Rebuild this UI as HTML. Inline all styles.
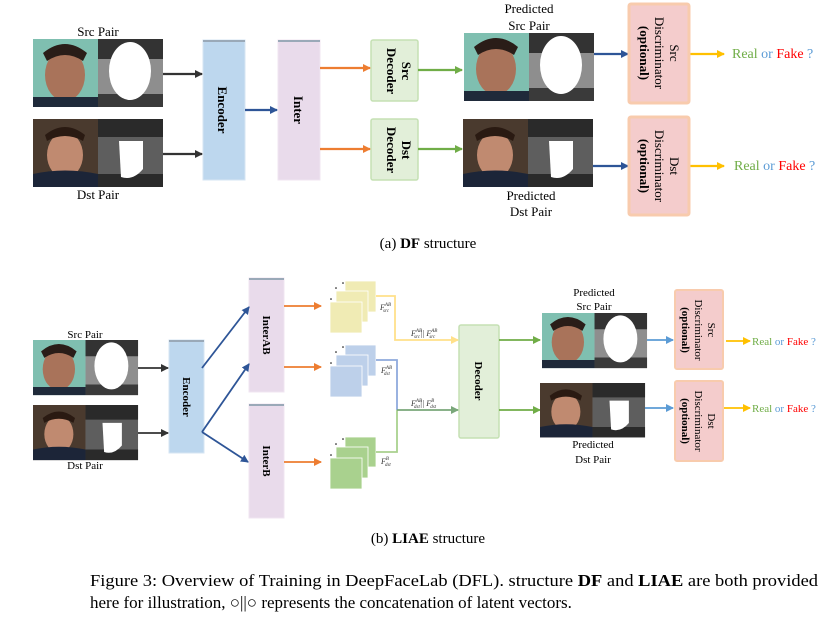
<!DOCTYPE html>
<html><head><meta charset="utf-8"><style>
html,body{margin:0;padding:0;background:#fff;}
svg{display:block;font-family:"Liberation Serif",serif;}
</style></head><body>
<svg width="830" height="617" viewBox="0 0 830 617" xmlns="http://www.w3.org/2000/svg">
<defs>
<marker id="ak" markerWidth="8" markerHeight="8" refX="7" refY="4" orient="auto" markerUnits="userSpaceOnUse"><path d="M0,0 L8,4 L0,8z" fill="#333"/></marker>
<marker id="ab" markerWidth="8" markerHeight="8" refX="7" refY="4" orient="auto" markerUnits="userSpaceOnUse"><path d="M0,0 L8,4 L0,8z" fill="#2e5597"/></marker>
<marker id="alb" markerWidth="8" markerHeight="8" refX="7" refY="4" orient="auto" markerUnits="userSpaceOnUse"><path d="M0,0 L8,4 L0,8z" fill="#5b9bd5"/></marker>
<marker id="ao" markerWidth="8" markerHeight="8" refX="7" refY="4" orient="auto" markerUnits="userSpaceOnUse"><path d="M0,0 L8,4 L0,8z" fill="#ed7d31"/></marker>
<marker id="ag" markerWidth="8" markerHeight="8" refX="7" refY="4" orient="auto" markerUnits="userSpaceOnUse"><path d="M0,0 L8,4 L0,8z" fill="#70ad47"/></marker>
<marker id="ay" markerWidth="8" markerHeight="8" refX="7" refY="4" orient="auto" markerUnits="userSpaceOnUse"><path d="M0,0 L8,4 L0,8z" fill="#ffc000"/></marker>
<marker id="ayl" markerWidth="8" markerHeight="8" refX="7" refY="4" orient="auto" markerUnits="userSpaceOnUse"><path d="M0,0 L8,4 L0,8z" fill="#ffe08a"/></marker>
<marker id="agg" markerWidth="8" markerHeight="8" refX="7" refY="4" orient="auto" markerUnits="userSpaceOnUse"><path d="M0,0 L8,4 L0,8z" fill="#7aa77a"/></marker>
<g id="srcpair">
 <rect x="0" y="0" width="65" height="68" fill="#7fbfb0"/>
 <ellipse cx="32" cy="36" rx="20" ry="26" fill="#a9735a"/>
 <path d="M10,14 Q32,-4 54,14 L50,22 Q32,10 14,22z" fill="#2a1d18"/>
 <path d="M0,58 L65,58 L65,68 L0,68z" fill="#1f2a3a"/>
 <rect x="65" y="0" width="65" height="68" fill="#8e8e8e"/>
 <path d="M65,0 h65 v20 h-65z" fill="#333"/>
 <path d="M65,55 h65 v13 h-65z" fill="#3a3a3a"/>
 <ellipse cx="97" cy="32" rx="21" ry="29" fill="#fff"/>
</g>
<g id="dstpair">
 <rect x="0" y="0" width="65" height="68" fill="#4a3a2e"/>
 <ellipse cx="32" cy="36" rx="18" ry="23" fill="#c08a70"/>
 <path d="M12,16 Q32,0 52,16 L50,22 Q32,12 14,22z" fill="#2a1a12"/>
 <path d="M0,55 Q32,48 65,55 L65,68 L0,68z" fill="#1c2538"/>
 <rect x="65" y="0" width="65" height="68" fill="#5e5e5e"/>
 <path d="M65,0 h65 v18 h-65z" fill="#2a2a2a"/>
 <path d="M65,55 h65 v13 h-65z" fill="#2a2a2a"/>
 <path d="M86,22 h24 v28 q-10,12 -22,8z" fill="#fff"/>
</g>
</defs>

<!-- (a) DF -->
<text x="98" y="36" font-size="13" text-anchor="middle">Src Pair</text>
<use href="#srcpair" transform="translate(33,39)"/>
<use href="#dstpair" transform="translate(33,119)"/>
<text x="98" y="199" font-size="13" text-anchor="middle">Dst Pair</text>

<rect x="203" y="40" width="42" height="140" fill="#bdd7ee" stroke="#d6e5f3"/>
<rect x="203" y="40" width="42" height="2" fill="#9aa9b8"/>
<text transform="translate(218,110) rotate(90)" font-size="13" font-weight="bold" text-anchor="middle">Encoder</text>
<rect x="278" y="40" width="42" height="140" fill="#e9dbeb" stroke="#f0e6f1"/>
<rect x="278" y="40" width="42" height="2" fill="#9aa9b8"/>
<text transform="translate(294,110) rotate(90)" font-size="13" font-weight="bold" text-anchor="middle">Inter</text>

<rect x="371" y="40" width="47" height="61" rx="2" fill="#e2efd9" stroke="#c5e0b4" stroke-width="1.5"/>
<text transform="translate(398,71) rotate(90)" font-size="13" font-weight="bold" text-anchor="middle"><tspan x="0" dy="-4">Src</tspan><tspan x="0" dy="15">Decoder</tspan></text>
<rect x="371" y="119" width="47" height="61" rx="2" fill="#e2efd9" stroke="#c5e0b4" stroke-width="1.5"/>
<text transform="translate(398,150) rotate(90)" font-size="13" font-weight="bold" text-anchor="middle"><tspan x="0" dy="-4">Dst</tspan><tspan x="0" dy="15">Decoder</tspan></text>

<g stroke-width="2.2" fill="none">
<line x1="163" y1="74" x2="202" y2="74" stroke="#333" marker-end="url(#ak)"/>
<line x1="163" y1="154" x2="202" y2="154" stroke="#333" marker-end="url(#ak)"/>
<line x1="245" y1="110" x2="277" y2="110" stroke="#2e5597" marker-end="url(#ab)"/>
<line x1="320" y1="68" x2="370" y2="68" stroke="#ed7d31" marker-end="url(#ao)"/>
<line x1="320" y1="149" x2="370" y2="149" stroke="#ed7d31" marker-end="url(#ao)"/>
<line x1="418" y1="70" x2="462" y2="70" stroke="#70ad47" marker-end="url(#ag)"/>
<line x1="418" y1="149" x2="462" y2="149" stroke="#70ad47" marker-end="url(#ag)"/>
<line x1="594" y1="54" x2="628" y2="54" stroke="#2e5597" marker-end="url(#ab)"/>
<line x1="593" y1="166" x2="628" y2="166" stroke="#2e5597" marker-end="url(#ab)"/>
<line x1="689" y1="54" x2="724" y2="54" stroke="#ffc000" marker-end="url(#ay)"/>
<line x1="689" y1="166" x2="724" y2="166" stroke="#ffc000" marker-end="url(#ay)"/>
</g>

<text x="529" y="13" font-size="13" text-anchor="middle">Predicted</text>
<text x="529" y="30" font-size="13" text-anchor="middle">Src Pair</text>
<use href="#srcpair" transform="translate(464,33)"/>
<use href="#dstpair" transform="translate(463,119)"/>
<text x="531" y="200" font-size="13" text-anchor="middle">Predicted</text>
<text x="531" y="216" font-size="13" text-anchor="middle">Dst Pair</text>

<rect x="629" y="4" width="60" height="99" rx="2" fill="#f4cccc" stroke="#f8cbad" stroke-width="3"/>
<text transform="translate(659,53) rotate(90)" font-size="13" text-anchor="middle"><tspan x="0" dy="-11">Src</tspan><tspan x="0" dy="15">Discriminator</tspan><tspan x="0" dy="15" font-weight="bold">(optional)</tspan></text>
<rect x="629" y="117" width="60" height="98" rx="2" fill="#f4cccc" stroke="#f8cbad" stroke-width="3"/>
<text transform="translate(659,166) rotate(90)" font-size="13" text-anchor="middle"><tspan x="0" dy="-11">Dst</tspan><tspan x="0" dy="15">Discriminator</tspan><tspan x="0" dy="15" font-weight="bold">(optional)</tspan></text>

<text x="732" y="58" font-size="14"><tspan fill="#70ad47">Real</tspan><tspan fill="#5b9bd5"> or </tspan><tspan fill="#ff0000">Fake</tspan><tspan fill="#5b9bd5"> ?</tspan></text>
<text x="734" y="170" font-size="14"><tspan fill="#70ad47">Real</tspan><tspan fill="#5b9bd5"> or </tspan><tspan fill="#ff0000">Fake</tspan><tspan fill="#5b9bd5"> ?</tspan></text>

<text x="428" y="248" font-size="15" text-anchor="middle">(a) <tspan font-weight="bold">DF</tspan> structure</text>

<!-- (b) LIAE -->
<text x="85" y="338" font-size="11" text-anchor="middle">Src Pair</text>
<use href="#srcpair" transform="translate(33,340) scale(0.808,0.81)"/>
<use href="#dstpair" transform="translate(33,405) scale(0.808,0.81)"/>
<text x="85" y="469" font-size="11" text-anchor="middle">Dst Pair</text>

<rect x="169" y="340" width="35" height="113" fill="#bdd7ee" stroke="#d6e5f3"/>
<rect x="169" y="340" width="35" height="2" fill="#9aa9b8"/>
<text transform="translate(183,397) rotate(90)" font-size="11" font-weight="bold" text-anchor="middle">Encoder</text>
<rect x="249" y="278" width="35" height="114" fill="#e9dbeb" stroke="#f0e6f1"/>
<rect x="249" y="278" width="35" height="2" fill="#9aa9b8"/>
<text transform="translate(263,335) rotate(90)" font-size="11" font-weight="bold" text-anchor="middle">InterAB</text>
<rect x="249" y="404" width="35" height="114" fill="#e9dbeb" stroke="#f0e6f1"/>
<rect x="249" y="404" width="35" height="2" fill="#9aa9b8"/>
<text transform="translate(263,461) rotate(90)" font-size="11" font-weight="bold" text-anchor="middle">InterB</text>

<!-- stacks -->
<g stroke="#fff" stroke-width="0.8">
<rect x="345" y="281" width="31" height="31" fill="#f0ebb4"/><rect x="336" y="291" width="32" height="31" fill="#f0ebb4"/><rect x="330" y="302" width="32" height="31" fill="#f0ebb4"/>
<rect x="345" y="345" width="31" height="31" fill="#bdd0ea"/><rect x="336" y="355" width="32" height="31" fill="#bdd0ea"/><rect x="330" y="366" width="32" height="31" fill="#bdd0ea"/>
<rect x="345" y="437" width="31" height="30" fill="#a9d18e"/><rect x="336" y="447" width="32" height="31" fill="#a9d18e"/><rect x="330" y="458" width="32" height="31" fill="#a9d18e"/>
</g>
<g fill="#000">
<circle cx="343" cy="283" r="0.8"/><circle cx="336" cy="288" r="0.8"/><circle cx="331" cy="299" r="0.8"/>
<circle cx="343" cy="347" r="0.8"/><circle cx="336" cy="352" r="0.8"/><circle cx="331" cy="363" r="0.8"/>
<circle cx="343" cy="439" r="0.8"/><circle cx="336" cy="444" r="0.8"/><circle cx="331" cy="455" r="0.8"/>
</g>

<rect x="459" y="325" width="40" height="113" rx="2" fill="#e2efd9" stroke="#c5e0b4" stroke-width="1.5"/>
<text transform="translate(475,381) rotate(90)" font-size="11" font-weight="bold" text-anchor="middle">Decoder</text>

<g stroke-width="1.8" fill="none">
<line x1="138" y1="368" x2="168" y2="368" stroke="#333" marker-end="url(#ak)"/>
<line x1="138" y1="433" x2="168" y2="433" stroke="#333" marker-end="url(#ak)"/>
<line x1="202" y1="368" x2="249" y2="307" stroke="#2e5597" marker-end="url(#ab)"/>
<line x1="202" y1="432" x2="249" y2="364" stroke="#2e5597" marker-end="url(#ab)"/>
<line x1="202" y1="432" x2="248" y2="462" stroke="#2e5597" marker-end="url(#ab)"/>
<line x1="284" y1="306" x2="321" y2="306" stroke="#ed7d31" marker-end="url(#ao)"/>
<line x1="284" y1="367" x2="321" y2="367" stroke="#ed7d31" marker-end="url(#ao)"/>
<line x1="284" y1="462" x2="321" y2="462" stroke="#ed7d31" marker-end="url(#ao)"/>
<polyline points="376,296 395,296 395,340 458,340" stroke="#ffe08a" marker-end="url(#ayl)"/>
<polyline points="376,360 397,360 397,410" stroke="#8faadc"/>
<polyline points="376,452 397,452 397,410" stroke="#a9d18e"/>
<line x1="397" y1="410" x2="458" y2="410" stroke="#7aa77a" marker-end="url(#agg)"/>
<line x1="499" y1="340" x2="540" y2="340" stroke="#70ad47" marker-end="url(#ag)"/>
<line x1="499" y1="410" x2="540" y2="410" stroke="#70ad47" marker-end="url(#ag)"/>
<line x1="647" y1="340" x2="673" y2="340" stroke="#5b9bd5" marker-end="url(#alb)"/>
<line x1="645" y1="408" x2="673" y2="408" stroke="#5b9bd5" marker-end="url(#alb)"/>
<line x1="726" y1="341" x2="750" y2="341" stroke="#ffc000" marker-end="url(#ay)"/>
<line x1="723" y1="408" x2="750" y2="408" stroke="#ffc000" marker-end="url(#ay)"/>
</g>

<g font-size="8" font-style="italic" fill="#333">
<text x="380" y="310">F<tspan font-size="5" dy="-4">AB</tspan><tspan font-size="5" dx="-8" dy="6">src</tspan></text>
<text x="381" y="373">F<tspan font-size="5" dy="-4">AB</tspan><tspan font-size="5" dx="-8" dy="6">dst</tspan></text>
<text x="381" y="464">F<tspan font-size="5" dy="-4">B</tspan><tspan font-size="5" dx="-4" dy="6">dst</tspan></text>
<text x="411" y="336">F<tspan font-size="5" dy="-4">AB</tspan><tspan font-size="5" dx="-8" dy="6">src</tspan><tspan dy="-2">|| F</tspan><tspan font-size="5" dy="-4">AB</tspan><tspan font-size="5" dx="-8" dy="6">src</tspan></text>
<text x="411" y="406">F<tspan font-size="5" dy="-4">AB</tspan><tspan font-size="5" dx="-8" dy="6">dst</tspan><tspan dy="-2">|| F</tspan><tspan font-size="5" dy="-4">B</tspan><tspan font-size="5" dx="-4" dy="6">dst</tspan></text>
</g>

<text x="594" y="296" font-size="11" text-anchor="middle">Predicted</text>
<text x="594" y="310" font-size="11" text-anchor="middle">Src Pair</text>
<use href="#srcpair" transform="translate(542,313) scale(0.808,0.81)"/>
<use href="#dstpair" transform="translate(540,383) scale(0.808,0.8)"/>
<text x="593" y="448" font-size="11" text-anchor="middle">Predicted</text>
<text x="593" y="463" font-size="11" text-anchor="middle">Dst Pair</text>

<rect x="675" y="290" width="48" height="79" rx="2" fill="#f4cccc" stroke="#f8cbad" stroke-width="2"/>
<text transform="translate(699,330) rotate(90)" font-size="11" text-anchor="middle"><tspan x="0" dy="-9">Src</tspan><tspan x="0" dy="13">Discriminator</tspan><tspan x="0" dy="13" font-weight="bold">(optional)</tspan></text>
<rect x="675" y="381" width="48" height="80" rx="2" fill="#f4cccc" stroke="#f8cbad" stroke-width="2"/>
<text transform="translate(699,421) rotate(90)" font-size="11" text-anchor="middle"><tspan x="0" dy="-9">Dst</tspan><tspan x="0" dy="13">Discriminator</tspan><tspan x="0" dy="13" font-weight="bold">(optional)</tspan></text>

<text x="752" y="345" font-size="11"><tspan fill="#70ad47">Real</tspan><tspan fill="#5b9bd5"> or </tspan><tspan fill="#ff0000">Fake</tspan><tspan fill="#5b9bd5"> ?</tspan></text>
<text x="752" y="412" font-size="11"><tspan fill="#70ad47">Real</tspan><tspan fill="#5b9bd5"> or </tspan><tspan fill="#ff0000">Fake</tspan><tspan fill="#5b9bd5"> ?</tspan></text>

<text x="428" y="543" font-size="15" text-anchor="middle">(b) <tspan font-weight="bold">LIAE</tspan> structure</text>

<text x="90" y="586" font-size="17" textLength="728" lengthAdjust="spacingAndGlyphs">Figure 3: Overview of Training in DeepFaceLab (DFL). structure <tspan font-weight="bold">DF</tspan> and <tspan font-weight="bold">LIAE</tspan> are both provided</text>
<text x="90" y="608" font-size="17">here for illustration, ○||○ represents the concatenation of latent vectors.</text>
</svg>
</body></html>
